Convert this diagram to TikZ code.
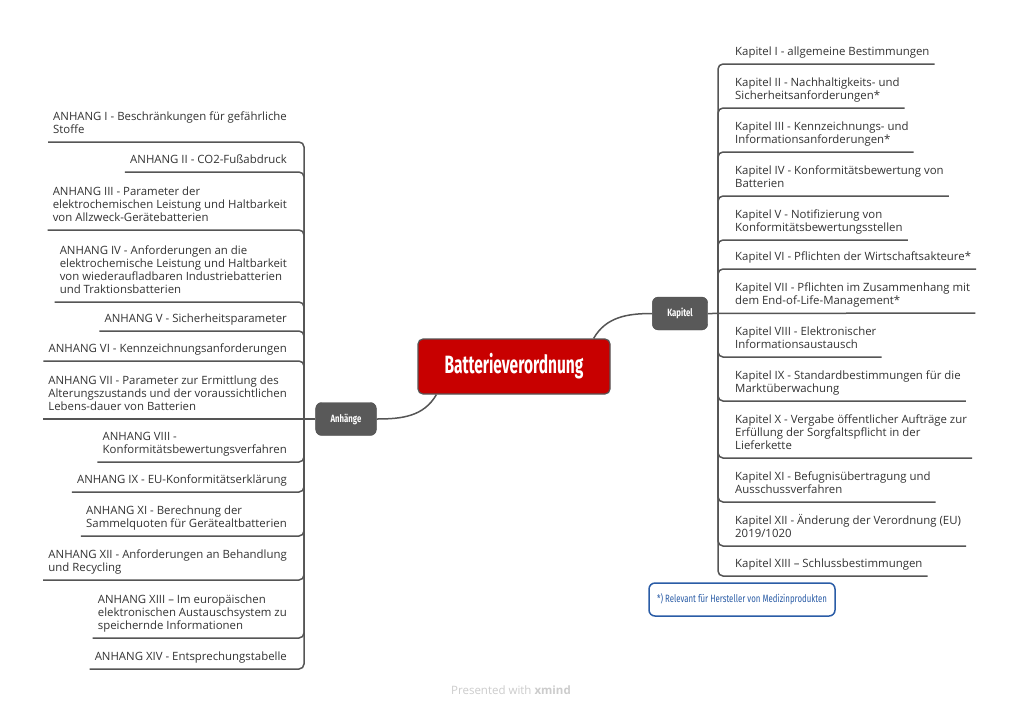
\documentclass[tikz,border=0pt]{standalone}
\usepackage{fontspec}
\setmainfont{Open Sans}
\newfontfamily\titlefont[FakeStretch=0.62]{Fira Sans}
\newfontfamily\boxfont[FakeStretch=0.74]{Fira Sans}
\usetikzlibrary{positioning}
\definecolor{rootred}{HTML}{C80000}
\definecolor{boxgray}{HTML}{595959}
\definecolor{linegray}{HTML}{555555}
\definecolor{textgray}{HTML}{333333}
\definecolor{noteblue}{HTML}{2A5CA6}
\tikzstyle{rootbox} = [draw=linegray, line width=1.2pt, fill=rootred, rounded corners=5pt, minimum width=192pt, minimum height=55pt, text=white, font=\titlefont\bfseries\fontsize{25}{25}\selectfont]
\tikzstyle{mainbox} = [draw=boxgray!85!black, fill=boxgray, rounded corners=6pt, inner xsep=15pt, minimum height=33pt, text=white, font=\boxfont\bfseries\fontsize{10.5}{10.5}\selectfont]
\tikzstyle{kitem} = [anchor=south west, align=left, inner xsep=5pt, inner ysep=5.5pt, text depth=3pt, text=textgray, font=\fontsize{11.4}{13}\selectfont]
\tikzstyle{aitem} = [kitem, anchor=south east]
\tikzstyle{branch} = [draw=linegray, line width=1.5pt, rounded corners=5pt]
\tikzstyle{notebox} = [draw=noteblue, line width=1.5pt, rounded corners=6pt, minimum width=186pt, minimum height=33pt, text=noteblue, font=\boxfont\fontsize{10.6}{10.6}\selectfont]
\def\itemgap{12}

\begin{document}
\begin{tikzpicture}[x=1pt, y=-1pt]
    \useasboundingbox[fill=white] (0,0) rectangle (1024,710);

    \node (root) [rootbox] at (514,366.5) {Batterieverordnung};
    \node (kapitel) [mainbox] at (680,313.5) {Kapitel};
    \node (anhaenge) [mainbox] at (346,419) {Anhänge};
    \coordinate (rj) at (718,313);
    \coordinate (lj) at (304,419);

    % Kapitel
    \path (rj)+(\itemgap,-249) node (kap1) [kitem] {Kapitel I - allgemeine Bestimmungen};
    \path (rj)+(\itemgap,-205) node (kap2) [kitem] {Kapitel II - Nachhaltigkeits- und\\Sicherheitsanforderungen*};
    \path (rj)+(\itemgap,-161) node (kap3) [kitem] {Kapitel III - Kennzeichnungs- und\\Informationsanforderungen*};
    \path (rj)+(\itemgap,-117) node (kap4) [kitem] {Kapitel IV - Konformitätsbewertung von\\Batterien};
    \path (rj)+(\itemgap,-73) node (kap5) [kitem] {Kapitel V - Notifizierung von\\Konformitätsbewertungsstellen};
    \path (rj)+(\itemgap,-44) node (kap6) [kitem] {Kapitel VI - Pflichten der Wirtschaftsakteure*};
    \path (rj)+(\itemgap,0) node (kap7) [kitem] {Kapitel VII - Pflichten im Zusammenhang mit\\dem End-of-Life-Management*};
    \path (rj)+(\itemgap,44) node (kap8) [kitem] {Kapitel VIII - Elektronischer\\Informationsaustausch};
    \path (rj)+(\itemgap,88) node (kap9) [kitem] {Kapitel IX - Standardbestimmungen für die\\Marktüberwachung};
    \path (rj)+(\itemgap,145) node (kap10) [kitem] {Kapitel X - Vergabe öffentlicher Aufträge zur\\Erfüllung der Sorgfaltspflicht in der\\Lieferkette};
    \path (rj)+(\itemgap,189) node (kap11) [kitem] {Kapitel XI - Befugnisübertragung und\\Ausschussverfahren};
    \path (rj)+(\itemgap,233) node (kap12) [kitem] {Kapitel XII - Änderung der Verordnung (EU)\\2019/1020};
    \path (rj)+(\itemgap,263) node (kap13) [kitem] {Kapitel XIII – Schlussbestimmungen};

    \node (note) [notebox] at (742,599.5) {*) Relevant für Hersteller von Medizinprodukten};

    % Anhaenge
    \path (lj)+(-\itemgap,-277) node (anh1) [aitem] {ANHANG I - Beschränkungen für gefährliche\\Stoffe};
    \path (lj)+(-\itemgap,-247) node (anh2) [aitem] {ANHANG II - CO2-Fußabdruck};
    \path (lj)+(-\itemgap,-189) node (anh3) [aitem] {ANHANG III - Parameter der\\elektrochemischen Leistung und Haltbarkeit\\von Allzweck-Gerätebatterien};
    \path (lj)+(-\itemgap,-117) node (anh4) [aitem] {ANHANG IV - Anforderungen an die\\elektrochemische Leistung und Haltbarkeit\\von wiederaufladbaren Industriebatterien\\und Traktionsbatterien};
    \path (lj)+(-\itemgap,-88) node (anh5) [aitem] {ANHANG V - Sicherheitsparameter};
    \path (lj)+(-\itemgap,-58) node (anh6) [aitem] {ANHANG VI - Kennzeichnungsanforderungen};
    \path (lj)+(-\itemgap,0) node (anh7) [aitem] {ANHANG VII - Parameter zur Ermittlung des\\Alterungszustands und der voraussichtlichen\\Lebens-dauer von Batterien};
    \path (lj)+(-\itemgap,43) node (anh8) [aitem] {ANHANG VIII -\\Konformitätsbewertungsverfahren};
    \path (lj)+(-\itemgap,73) node (anh9) [aitem] {ANHANG IX - EU-Konformitätserklärung};
    \path (lj)+(-\itemgap,117) node (anh11) [aitem] {ANHANG XI - Berechnung der\\Sammelquoten für Gerätealtbatterien};
    \path (lj)+(-\itemgap,161) node (anh12) [aitem] {ANHANG XII - Anforderungen an Behandlung\\und Recycling};
    \path (lj)+(-\itemgap,219) node (anh13) [aitem] {ANHANG XIII – Im europäischen\\elektronischen Austauschsystem zu\\speichernde Informationen};
    \path (lj)+(-\itemgap,250) node (anh14) [aitem] {ANHANG XIV - Entsprechungstabelle};

    \node (footer) [text=black!20, font=\fontsize{11.5}{11.5}\selectfont] at (511,690) {Presented with \textbf{xmind}};

    % root to main topics
    \path [draw=linegray, line width=1.5pt] ([xshift=-17pt]root.north east) to[out=60, in=180] (kapitel.west);
    \path [draw=linegray, line width=1.5pt] ([xshift=19pt]root.south west) to[out=-120, in=0] (anhaenge.east);

    \path [branch] (kapitel.east) -- (kap7.south east);
    \foreach \x in {1,...,6,8,9,...,13}
    {
        \path [branch] (rj) |- (kap\x.south east);
    }

    \path [branch] (anhaenge.west) -- (anh7.south west);
    \foreach \x in {1,...,6,8,9,11,12,13,14}
    {
        \path [branch] (lj) |- (anh\x.south west);
    }
\end{tikzpicture}
\end{document}
